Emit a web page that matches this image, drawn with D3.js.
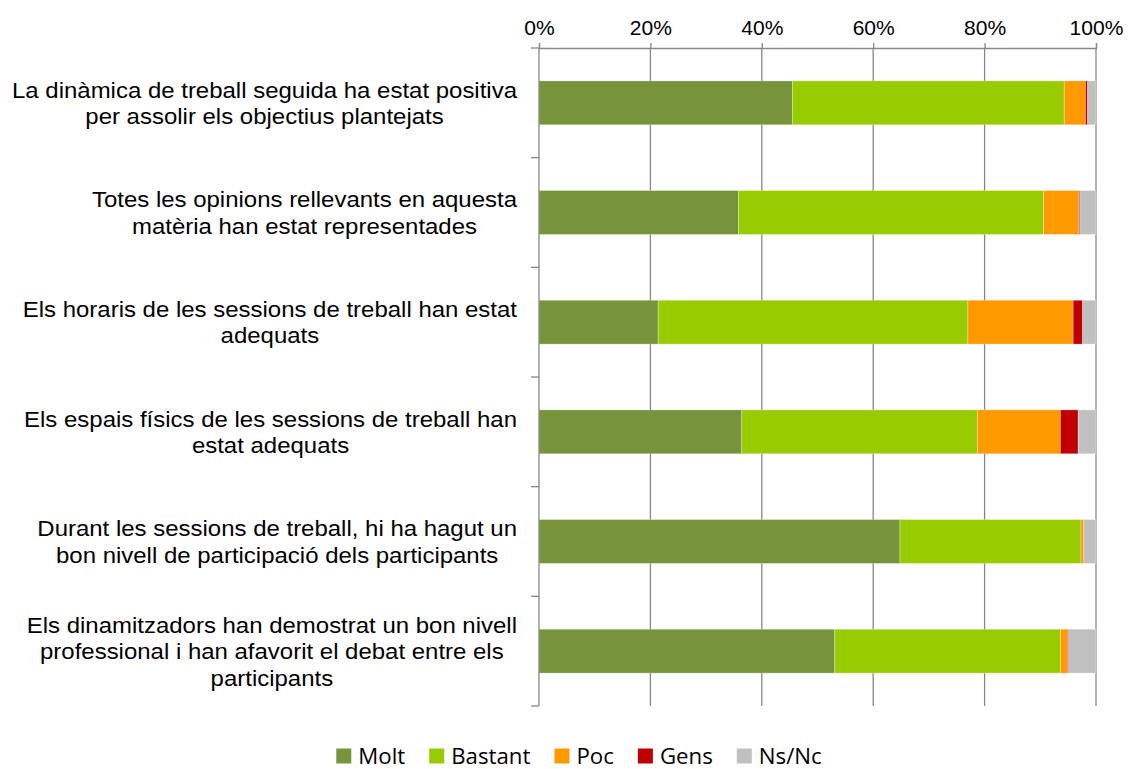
<!DOCTYPE html>
<html>
<head>
<meta charset="utf-8">
<script src="https://cdn.jsdelivr.net/npm/d3@7"></script>
<style>
  html, body { margin: 0; padding: 0; background: #fff; }
  svg { display: block; }
</style>
</head>
<body>
<svg id="chart" width="1128" height="769"></svg>
<script>
// ---- data ----
const categories = [
  ["La dinàmica de treball seguida ha estat positiva", "per assolir els objectius plantejats"],
  ["Totes les opinions rellevants en aquesta", "matèria han estat representades"],
  ["Els horaris de les sessions de treball han estat", "adequats"],
  ["Els espais físics de les sessions de treball han", "estat adequats"],
  ["Durant les sessions de treball, hi ha hagut un", "bon nivell de participació dels participants"],
  ["Els dinamitzadors han demostrat un bon nivell", "professional i han afavorit el debat entre els", "participants"]
];
const seriesNames = ["Molt", "Bastant", "Poc", "Gens", "Ns/Nc"];
const molt    = [45.5, 35.8, 21.4, 36.4, 64.8, 53.1];
const bastant = [48.8, 54.8, 55.6, 42.3, 32.5, 40.5];
const poc     = [3.8, 6.3, 18.9, 14.9, 0.5, 1.3];
const gens    = [0.4, 0.2, 1.7, 3.2, 0.0, 0.2];
const nsnc    = [1.5, 2.9, 2.4, 3.2, 2.2, 4.9];
const xTicks  = [0, 20, 40, 60, 80, 100];
const colors  = ["#77933C", "#99CC00", "#FF9900", "#C00000", "#C0C0C0"];

// ---- layout ----
const svg = d3.select("#chart");
const plotL = 539, plotR = 1096, plotT = 48, plotB = 706;
const labelRight = 517;
const stretch = 1.09;

const rows = categories.map((c, i) => ({
  idx: i, molt: molt[i], bastant: bastant[i], poc: poc[i], gens: gens[i], nsnc: nsnc[i]
}));
const keys = ["molt", "bastant", "poc", "gens", "nsnc"];
const stacked = d3.stack().keys(keys)(rows);

const x = d3.scaleLinear().domain([0, 100]).range([plotL, plotR]);
const y = d3.scaleBand().domain(d3.range(categories.length)).range([plotT, plotB])
  .paddingInner(0.6).paddingOuter(0.3);
const step = y.step();

const gridColor = "#878787";

// gridlines
svg.append("g").selectAll("line").data(xTicks.slice(1)).join("line")
  .attr("x1", d => x(d)).attr("x2", d => x(d))
  .attr("y1", plotT).attr("y2", plotB)
  .attr("stroke", gridColor).attr("stroke-width", 1.3);

// bars
const gBars = svg.append("g");
stacked.forEach((s, k) => {
  gBars.append("g").attr("fill", colors[k]).selectAll("rect").data(s).join("rect")
    .attr("x", d => x(d[0]))
    .attr("width", d => Math.max(0, x(d[1]) - x(d[0])))
    .attr("y", (d, i) => y(i))
    .attr("height", y.bandwidth())
    .attr("stroke", "rgba(255,255,255,0.35)")
    .attr("stroke-width", 0.8);
});

// top axis
const xAxis = d3.axisTop(x).tickValues(xTicks).tickFormat(d => d + "%").tickSize(5).tickPadding(8);
const gx = svg.append("g").attr("transform", `translate(0,${plotT})`).call(xAxis);
gx.select(".domain").attr("stroke", gridColor).attr("stroke-width", 1.3);
gx.selectAll(".tick line").attr("stroke", gridColor).attr("stroke-width", 1.3);
gx.selectAll(".tick text")
  .attr("font-family", "'Liberation Sans', Arial, sans-serif")
  .attr("font-size", 19.5).attr("fill", "#000")
  .attr("transform", `scale(1.08,1)`);

// left axis line + ticks at band boundaries
const boundaries = d3.range(categories.length + 1).map(i => plotT + i * step);
svg.append("line").attr("x1", plotL).attr("x2", plotL).attr("y1", plotT).attr("y2", plotB)
  .attr("stroke", gridColor).attr("stroke-width", 1.3);
svg.append("g").selectAll("line").data(boundaries).join("line")
  .attr("x1", plotL - 8).attr("x2", plotL).attr("y1", d => d).attr("y2", d => d)
  .attr("stroke", gridColor).attr("stroke-width", 1.3);

// category labels
const fs = 22, lh = 26.5;
const gLab = svg.append("g")
  .attr("font-family", "'Liberation Sans', Arial, sans-serif")
  .attr("font-size", fs).attr("fill", "#000");
categories.forEach((lines, i) => {
  const cy = y(i) + y.bandwidth() / 2;
  const g = gLab.append("g").attr("transform", `translate(${labelRight},${cy}) scale(${stretch},1)`);
  const texts = g.selectAll("text").data(lines).join("text")
    .attr("text-anchor", "middle")
    .attr("y", (d, j) => (j - (lines.length - 1) / 2) * lh)
    .attr("dy", "0.36em")
    .text(d => d);
  let maxW = 0;
  texts.each(function() { maxW = Math.max(maxW, this.getComputedTextLength()); });
  texts.attr("x", -maxW / 2);
});

// legend
const legStretch = 1.06;
const gLeg = svg.append("g").attr("font-family", "'Open Sans', sans-serif")
  .attr("font-size", 21).attr("fill", "#000");
let cx = 0;
seriesNames.forEach((name, k) => {
  const it = gLeg.append("g");
  it.append("rect").attr("x", 0).attr("y", -15).attr("width", 15).attr("height", 15).attr("fill", colors[k]);
  const t = it.append("text").attr("transform", `translate(22,0) scale(${legStretch},1)`).text(name);
  const w = t.node().getComputedTextLength() * legStretch;
  it.attr("transform", `translate(${cx},0)`);
  cx += 22 + w + 24;
});
const totalW = cx - 24;
gLeg.attr("transform", `translate(${579 - totalW / 2},763.5)`);
</script>
</body>
</html>
